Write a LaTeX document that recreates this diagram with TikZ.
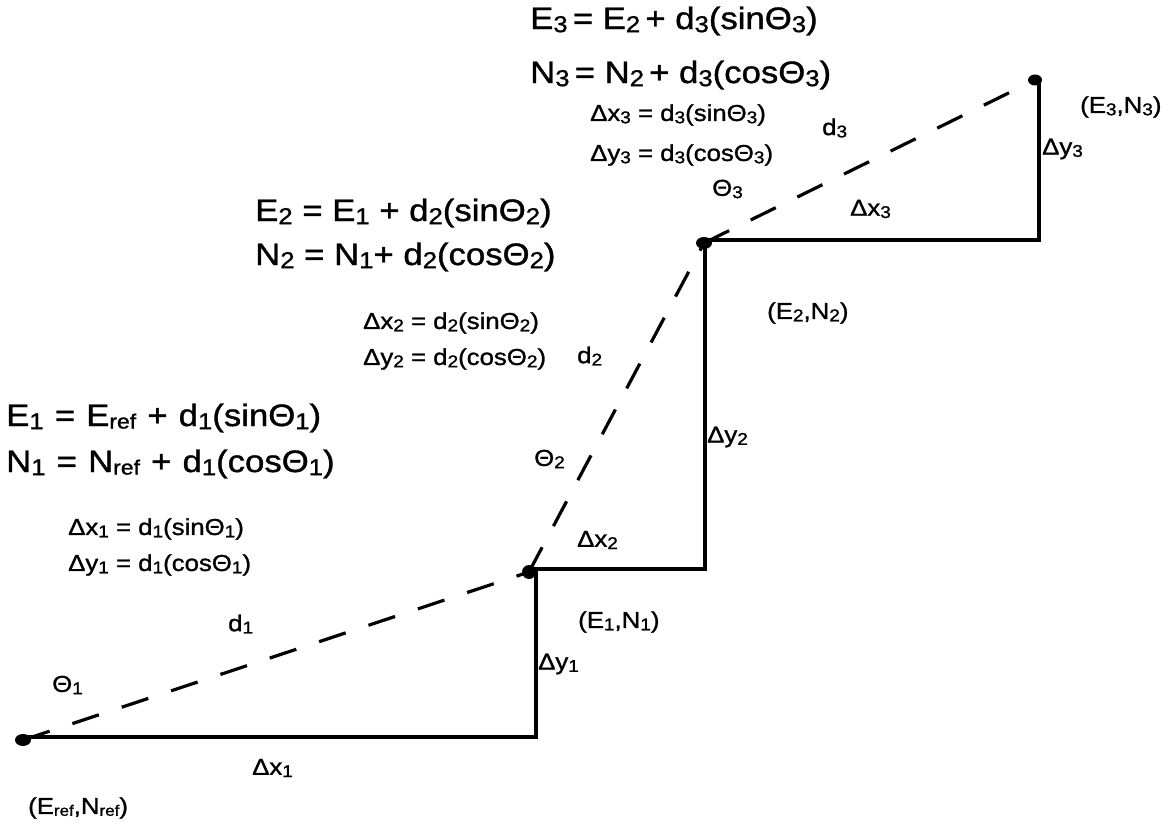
\documentclass[tikz,border=0pt]{standalone}
\usepackage{fontspec}
\setmainfont[FakeStretch=1.12, FakeBold=1.2]{Liberation Sans}
\usepackage{graphicx}
\usetikzlibrary{shapes.geometric}
\newcommand\lowi[1]{\raisebox{-0.1em}{\scalebox{0.74}{#1}}}
\newcommand\refsub{\raisebox{-0.08em}{\scalebox{0.66}{ref}}}
\newcommand\wsp{\hspace{0.36em}}
\tikzset{
  bigeq/.style={anchor=west, inner sep=0pt, font=\fontsize{31}{34}\selectfont},
  smalleq/.style={anchor=west, inner sep=0pt, font=\fontsize{23}{26}\selectfont},
  dotmark/.style={ellipse, fill=black, draw=none, inner sep=0pt, minimum width=16pt, minimum height=12pt},
  solidline/.style={line width=3.4pt, line join=miter},
  dashline/.style={line width=3.2pt, dash pattern=on 28pt off 24pt}
}
\begin{document}
\begin{tikzpicture}[x=1pt,y=-1pt]
\useasboundingbox (0,0) rectangle (1175,826);
% corners
\coordinate (o) at (26,737);
\coordinate (a) at (536,569);
\coordinate (b) at (705,240);
\coordinate (c) at (1039,78);
\draw[solidline] (o) -| (a) -| (b) -| (c);
% dots
\node[dotmark] (ref) at (23,740) {};
\node[dotmark, minimum width=14pt, minimum height=14pt] (p1) at (529,572) {};
\node[dotmark] (p2) at (704,243) {};
\node[dotmark, minimum width=14pt, minimum height=11pt] (p3) at (1035,80) {};
\draw[dashline] (ref.center) -- (p1.center);
\draw[dashline] (p1.center) -- (p2.center);
\draw[dashline] (p2.center) -- (p3.center);
% big equations
\node[bigeq] (e3) at (530,21) {E\lowi{3}\,= E\lowi{2}\,+ d\lowi{3}(sinΘ\lowi{3})};
\node[bigeq] (n3) at (530,75) {N\lowi{3}\,= N\lowi{2}\,+ d\lowi{3}(cosΘ\lowi{3})};
\node[bigeq] (e2) at (255,213) {E\lowi{2} = E\lowi{1} + d\lowi{2}(sinΘ\lowi{2})};
\node[bigeq] (n2) at (255,257) {N\lowi{2} = N\lowi{1}+ d\lowi{2}(cosΘ\lowi{2})};
\node[bigeq] (e1) at (6,418) {E\lowi{1}\wsp=\wsp E\refsub{}\wsp+\wsp d\lowi{1}(sinΘ\lowi{1})};
\node[bigeq] (n1) at (6,464) {N\lowi{1}\wsp=\wsp N\refsub{}\wsp+\wsp d\lowi{1}(cosΘ\lowi{1})};
% small equations
\node[smalleq] (dx3eq) at (590,115) {Δx\lowi{3} = d\lowi{3}(sinΘ\lowi{3})};
\node[smalleq] (dy3eq) at (590,155) {Δy\lowi{3} = d\lowi{3}(cosΘ\lowi{3})};
\node[smalleq] (dx2eq) at (363,323) {Δx\lowi{2} = d\lowi{2}(sinΘ\lowi{2})};
\node[smalleq] (dy2eq) at (363,359) {Δy\lowi{2} = d\lowi{2}(cosΘ\lowi{2})};
\node[smalleq] (dx1eq) at (68,529) {Δx\lowi{1} = d\lowi{1}(sinΘ\lowi{1})};
\node[smalleq] (dy1eq) at (68,565) {Δy\lowi{1} = d\lowi{1}(cosΘ\lowi{1})};
% labels
\node[smalleq] (t3) at (712,189) {Θ\lowi{3}};
\node[smalleq] (d3) at (822,128) {d\lowi{3}};
\node[smalleq] (dx3) at (850,209) {Δx\lowi{3}};
\node[smalleq] (pt3) at (1080,107) {(E\lowi{3},N\lowi{3})};
\node[smalleq] (dy3) at (1042,149) {Δy\lowi{3}};
\node[smalleq] (pt2) at (767,313) {(E\lowi{2},N\lowi{2})};
\node[smalleq] (d2) at (577,356) {d\lowi{2}};
\node[smalleq] (dy2) at (707,437) {Δy\lowi{2}};
\node[smalleq] (t2) at (534,459) {Θ\lowi{2}};
\node[smalleq] (dx2) at (577,540) {Δx\lowi{2}};
\node[smalleq] (pt1) at (578,622) {(E\lowi{1},N\lowi{1})};
\node[smalleq] (dy1) at (538,664) {Δy\lowi{1}};
\node[smalleq] (d1) at (228,624) {d\lowi{1}};
\node[smalleq] (t1) at (52,685) {Θ\lowi{1}};
\node[smalleq] (dx1) at (252,768) {Δx\lowi{1}};
\node[smalleq] (ptref) at (28,808) {(E\refsub,N\refsub)};
\end{tikzpicture}
\end{document}
